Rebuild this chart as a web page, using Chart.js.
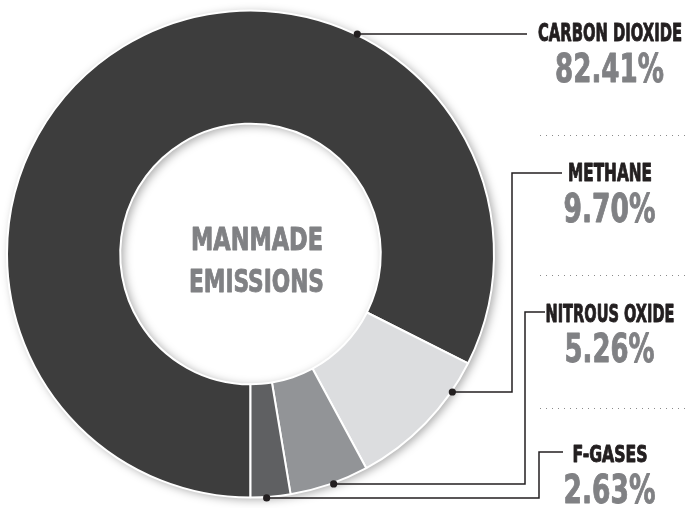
<!DOCTYPE html>
<html>
<head>
<meta charset="utf-8">
<script src="https://cdn.jsdelivr.net/npm/chart.js@4.4.1/dist/chart.umd.min.js"></script>
<style>
  html, body { margin: 0; padding: 0; background: #ffffff; }
  #wrap { width: 686px; height: 508px; position: relative; }
</style>
</head>
<body>
<div id="wrap"><canvas id="c" width="686" height="508"></canvas></div>
<script>
// ---- data ----
const categories = ["CARBON DIOXIDE", "METHANE", "NITROUS OXIDE", "F-GASES"];
const shares = [82.41, 9.70, 5.26, 2.63];
const centerTitle = ["MANMADE", "EMISSIONS"];

// ---- styling / layout (not data) ----
const sliceColors = ["#3d3d3d", "#dcdddf", "#929497", "#5f6062"];
const anchorFrac = [0.694, 0.22, 0.45, 0.6];     // where each leader dot sits along its slice
const labelBlocks = [                             // right-side label layout
  { nameBase: 41,  nameW: 144, pctBase: 82,  pctW: 109, elbowX: null, lineY: 32,  lineEnd: 527 },
  { nameBase: 181, nameW: 84,  pctBase: 222, pctW: 92,  elbowX: 512, lineY: 173, lineEnd: 562 },
  { nameBase: 322, nameW: 129, pctBase: 362, pctW: 90,  elbowX: 525, lineY: 312, lineEnd: 545 },
  { nameBase: 462, nameW: 75,  pctBase: 503, pctW: 92,  elbowX: 539, lineY: 452, lineEnd: 563 }
];
const dividerYs = [135, 275, 408];
const FONT = "'Liberation Sans Narrow', 'DejaVu Sans Condensed', 'Roboto', sans-serif";

function drawFitted(ctx, text, cx, base, capH, width, color) {
  const size = capH / 0.72;
  ctx.save();
  ctx.font = "bold " + size + "px " + FONT;
  const w = ctx.measureText(text).width;
  const sx = width / w;
  ctx.translate(cx, base);
  ctx.scale(sx, 1);
  ctx.fillStyle = color;
  ctx.strokeStyle = color;
  ctx.lineWidth = 0.9;
  ctx.lineJoin = "round";
  ctx.textAlign = "center";
  ctx.textBaseline = "alphabetic";
  ctx.fillText(text, 0, 0);
  ctx.strokeText(text, 0, 0);
  ctx.restore();
}

const ringShadow = {
  id: "ringShadow",
  beforeDatasetsDraw(chart) {
    const a = chart.getDatasetMeta(0).data[0];
    const ctx = chart.ctx;
    ctx.save();
    ctx.beginPath();
    ctx.arc(a.x, a.y, a.outerRadius, 0, Math.PI * 2);
    ctx.arc(a.x, a.y, a.innerRadius, 0, Math.PI * 2, true);
    ctx.closePath();
    ctx.shadowColor = "rgba(0,0,0,0.35)";
    ctx.shadowBlur = 10;
    ctx.shadowOffsetX = 3;
    ctx.shadowOffsetY = 2;
    ctx.fillStyle = "#3d3d3d";
    ctx.fill("evenodd");
    ctx.restore();
  }
};

const annotations = {
  id: "annotations",
  afterDatasetsDraw(chart) {
    const ctx = chart.ctx;
    const meta = chart.getDatasetMeta(0);
    // center title
    drawFitted(ctx, centerTitle[0], 257, 250, 22.5, 132, "#808184");
    drawFitted(ctx, centerTitle[1], 256.5, 292, 23, 135, "#808184");

    // dotted dividers
    ctx.save();
    ctx.strokeStyle = "#8a8a8a";
    ctx.lineWidth = 1;
    ctx.setLineDash([1, 5]);
    dividerYs.forEach(y => {
      ctx.beginPath();
      ctx.moveTo(540, y + 0.5);
      ctx.lineTo(686, y + 0.5);
      ctx.stroke();
    });
    ctx.restore();

    meta.data.forEach((arc, i) => {
      const L = labelBlocks[i];
      const ang = arc.startAngle + anchorFrac[i] * (arc.endAngle - arc.startAngle);
      const R = arc.outerRadius + 1;
      const px = arc.x + R * Math.cos(ang);
      const py = arc.y + R * Math.sin(ang);

      ctx.save();
      ctx.strokeStyle = "#231f20";
      ctx.lineWidth = 1.5;
      ctx.beginPath();
      ctx.moveTo(px, py);
      if (L.elbowX === null) {
        ctx.lineTo(L.lineEnd, py);
      } else {
        ctx.lineTo(L.elbowX, py);
        ctx.lineTo(L.elbowX, L.lineY);
        ctx.lineTo(L.lineEnd, L.lineY);
      }
      ctx.stroke();
      ctx.fillStyle = "#231f20";
      ctx.beginPath();
      ctx.arc(px, py, 3.6, 0, Math.PI * 2);
      ctx.fill();
      ctx.restore();

      const capName = i === 3 ? 16.5 : 17.5;
      drawFitted(ctx, categories[i], 610, L.nameBase, capName, L.nameW, "#231f20");
      drawFitted(ctx, shares[i].toFixed(2) + "%", 609.5, L.pctBase, 28, L.pctW, "#808184");
    });
  }
};

new Chart(document.getElementById("c"), {
  type: "doughnut",
  data: {
    labels: categories,
    datasets: [{
      data: shares,
      backgroundColor: sliceColors,
      borderColor: "#ffffff",
      borderWidth: 2,
      hoverOffset: 0
    }]
  },
  options: {
    responsive: false,
    animation: false,
    rotation: 180,
    cutout: "53.5%",
    layout: { padding: { left: 6, right: 191, top: 9, bottom: 9 } },
    plugins: { legend: { display: false }, tooltip: { enabled: false } }
  },
  plugins: [ringShadow, annotations]
});
</script>
</body>
</html>
